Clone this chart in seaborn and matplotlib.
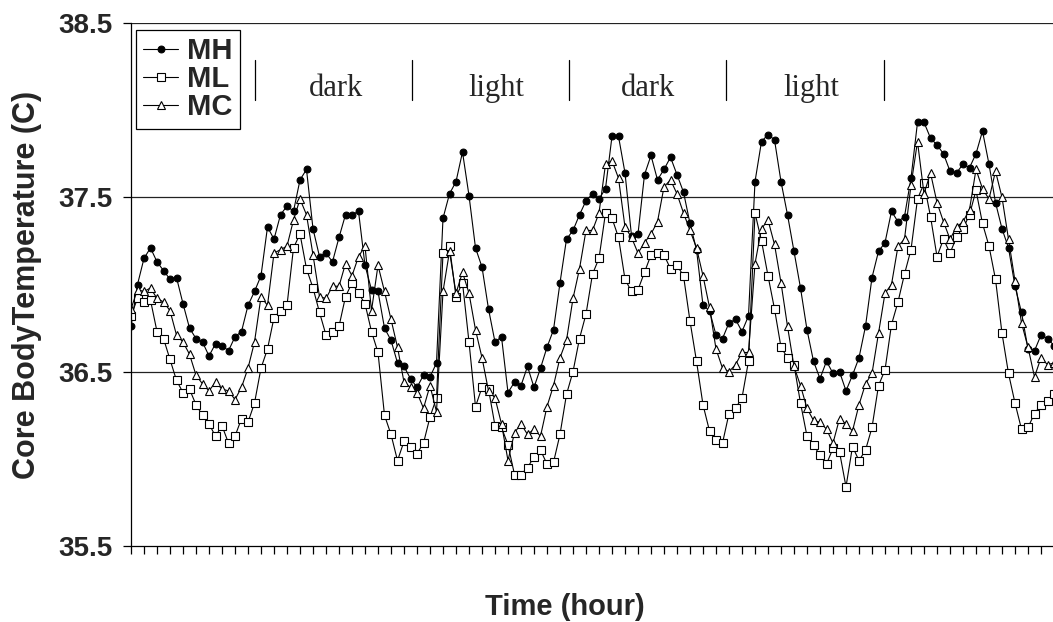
"""Core body temperature over time for three groups (MH, ML, MC)."""

import matplotlib

matplotlib.use("Agg")
import matplotlib.pyplot as plt
import numpy as np
import pandas as pd
import seaborn as sns

sns.set_theme(style="white", context="notebook")
plt.rcParams["font.family"] = ["Liberation Sans", "DejaVu Sans"]

# Half-hourly readings (deg C)
MH = [
    36.76, 37.00, 37.15, 37.21, 37.13, 37.08, 37.03, 37.04, 36.89, 36.75,
    36.69, 36.67, 36.59, 36.66, 36.65, 36.62, 36.70, 36.73, 36.88, 36.96,
    37.05, 37.33, 37.26, 37.40, 37.45, 37.42, 37.60, 37.66, 37.32, 37.16,
    37.18, 37.13, 37.27, 37.40, 37.40, 37.42, 37.11, 36.97, 36.96, 36.75,
    36.68, 36.55, 36.53, 36.46, 36.41, 36.48, 36.47, 36.55, 37.38, 37.52,
    37.59, 37.76, 37.51, 37.21, 37.10, 36.86, 36.67, 36.70, 36.38, 36.44,
    36.42, 36.53, 36.41, 36.52, 36.64, 36.74, 37.01, 37.26, 37.31, 37.40,
    37.48, 37.52, 37.49, 37.55, 37.85, 37.85, 37.64, 37.28, 37.29, 37.63,
    37.74, 37.60, 37.66, 37.73, 37.63, 37.53, 37.35, 37.20, 36.88, 36.85,
    36.71, 36.69, 36.78, 36.80, 36.73, 36.82, 37.59, 37.82, 37.86, 37.83,
    37.59, 37.40, 37.19, 36.98, 36.74, 36.56, 36.46, 36.56, 36.49, 36.50,
    36.39, 36.48, 36.58, 36.76, 37.04, 37.19, 37.24, 37.42, 37.36, 37.39,
    37.61, 37.93, 37.93, 37.84, 37.80, 37.75, 37.65, 37.64, 37.69, 37.67,
    37.75, 37.88, 37.69, 37.47, 37.32, 37.21, 36.99, 36.84, 36.63, 36.62,
    36.71, 36.69, 36.65,
]
ML = [
    36.82, 36.92, 36.90, 36.91, 36.73, 36.69, 36.57, 36.45, 36.38, 36.40,
    36.31, 36.25, 36.20, 36.13, 36.19, 36.09, 36.13, 36.23, 36.21, 36.32,
    36.52, 36.63, 36.81, 36.85, 36.88, 37.21, 37.29, 37.09, 36.98, 36.84,
    36.71, 36.73, 36.76, 36.93, 37.01, 36.95, 36.89, 36.73, 36.61, 36.25,
    36.14, 35.99, 36.10, 36.07, 36.03, 36.09, 36.24, 36.35, 37.18, 37.22,
    36.93, 37.01, 36.67, 36.30, 36.41, 36.40, 36.19, 36.18, 36.08, 35.91,
    35.91, 35.95, 36.01, 36.05, 35.97, 35.98, 36.14, 36.37, 36.50, 36.69,
    36.83, 37.06, 37.15, 37.41, 37.38, 37.27, 37.03, 36.96, 36.97, 37.07,
    37.17, 37.18, 37.17, 37.09, 37.11, 37.05, 36.79, 36.56, 36.31, 36.16,
    36.11, 36.09, 36.26, 36.29, 36.35, 36.56, 37.41, 37.25, 37.05, 36.86,
    36.64, 36.58, 36.54, 36.32, 36.13, 36.08, 36.02, 35.97, 36.06, 36.04,
    35.84, 36.07, 35.99, 36.05, 36.18, 36.42, 36.51, 36.77, 36.90, 37.06,
    37.20, 37.49, 37.58, 37.39, 37.16, 37.26, 37.18, 37.27, 37.32, 37.40,
    37.54, 37.35, 37.22, 37.03, 36.72, 36.49, 36.32, 36.17, 36.18, 36.26,
    36.31, 36.33, 36.37,
]
MC = [
    36.86, 36.97, 36.96, 36.98, 36.92, 36.90, 36.85, 36.71, 36.67, 36.60,
    36.48, 36.43, 36.39, 36.44, 36.40, 36.39, 36.34, 36.41, 36.52, 36.67,
    36.93, 36.88, 37.18, 37.20, 37.22, 37.37, 37.49, 37.40, 37.17, 36.93,
    36.92, 36.99, 36.99, 37.12, 37.05, 37.16, 37.22, 36.85, 37.11, 36.96,
    36.80, 36.64, 36.44, 36.41, 36.38, 36.29, 36.42, 36.27, 36.96, 37.19,
    36.95, 37.07, 36.95, 36.74, 36.58, 36.39, 36.35, 36.20, 35.99, 36.15,
    36.20, 36.14, 36.17, 36.13, 36.30, 36.42, 36.58, 36.68, 36.92, 37.09,
    37.31, 37.31, 37.41, 37.69, 37.71, 37.61, 37.33, 37.27, 37.18, 37.24,
    37.29, 37.36, 37.56, 37.60, 37.52, 37.41, 37.31, 37.21, 37.05, 36.87,
    36.63, 36.52, 36.50, 36.54, 36.61, 36.61, 37.12, 37.32, 37.37, 37.23,
    37.01, 36.76, 36.53, 36.42, 36.29, 36.22, 36.21, 36.17, 36.09, 36.23,
    36.20, 36.16, 36.31, 36.43, 36.49, 36.72, 36.95, 37.00, 37.22, 37.26,
    37.57, 37.82, 37.52, 37.64, 37.47, 37.36, 37.26, 37.33, 37.36, 37.43,
    37.66, 37.55, 37.49, 37.65, 37.50, 37.26, 37.02, 36.78, 36.64, 36.47,
    36.58, 36.54, 36.55,
]
HOURS = np.arange(len(MH)) * 0.5

Y_TICKS = [35.5, 36.5, 37.5, 38.5]
PHASE_EDGES = [9.5, 21.6, 33.7, 45.8, 57.9]
PHASE_NAMES = ["dark", "light", "dark", "light"]
PHASE_TEXT_X = [15.8, 28.1, 39.8, 52.3]

SERIES = [
    ("MH", MH, dict(marker="o", markerfacecolor="black", markersize=4.9)),
    ("ML", ML, dict(marker="s", markerfacecolor="white", markersize=5.2)),
    ("MC", MC, dict(marker="^", markerfacecolor="white", markersize=5.8)),
]

fig = plt.figure(figsize=(10.53, 6.22), dpi=100)
ax = fig.add_axes([131 / 1053, 76 / 622, 922 / 1053, 523 / 622])

for name, values, style in SERIES:
    df = pd.DataFrame({"hour": HOURS, "temp": values})
    sns.lineplot(
        data=df,
        x="hour",
        y="temp",
        ax=ax,
        color="black",
        linewidth=0.8,
        markeredgecolor="black",
        markeredgewidth=0.8,
        label=name,
        **style,
    )

ax.set_xlim(0, 922 / 13)
ax.set_ylim(35.5, 38.5)
ax.set_yticks(Y_TICKS)
ax.set_yticklabels([f"{v:.1f}" for v in Y_TICKS], fontsize=20, fontweight="bold")
ax.set_xticks(np.arange(0, 71))
ax.set_xticklabels([])
ax.tick_params(axis="both", direction="out", length=6, width=0.9, color="black",
               bottom=True, left=True)
ax.tick_params(axis="y", pad=7)

for v in Y_TICKS[1:]:
    ax.axhline(v, color="#222222", linewidth=0.9, zorder=0)

for side in ("top", "right"):
    ax.spines[side].set_visible(False)
for side in ("left", "bottom"):
    ax.spines[side].set_color("black")
    ax.spines[side].set_linewidth(0.9)

for xv in PHASE_EDGES:
    ax.plot([xv, xv], [38.06, 38.29], color="black", linewidth=0.9)
for xv, name in zip(PHASE_TEXT_X, PHASE_NAMES):
    ax.text(xv, 38.08, name, ha="center", va="baseline", fontsize=22,
            family=["Liberation Serif", "DejaVu Serif"])

ax.set_ylabel("Core BodyTemperature (C)", fontsize=22, fontweight="bold")
ax.yaxis.set_label_coords(-0.096, 0.5)
ax.set_xlabel("Time (hour)", fontsize=21, fontweight="bold")
ax.xaxis.set_label_coords(0.4707, -0.089)

leg = ax.legend(
    loc="upper left",
    bbox_to_anchor=(0.0054, 0.9866),
    borderaxespad=0,
    frameon=True,
    fancybox=False,
    framealpha=1,
    edgecolor="black",
    handlelength=1.2,
    handletextpad=0.3,
    labelspacing=0.0,
    borderpad=0.25,
    prop={"weight": "bold", "size": 21},
)
leg.get_frame().set_linewidth(0.9)

fig.savefig("out.png", dpi=100)
